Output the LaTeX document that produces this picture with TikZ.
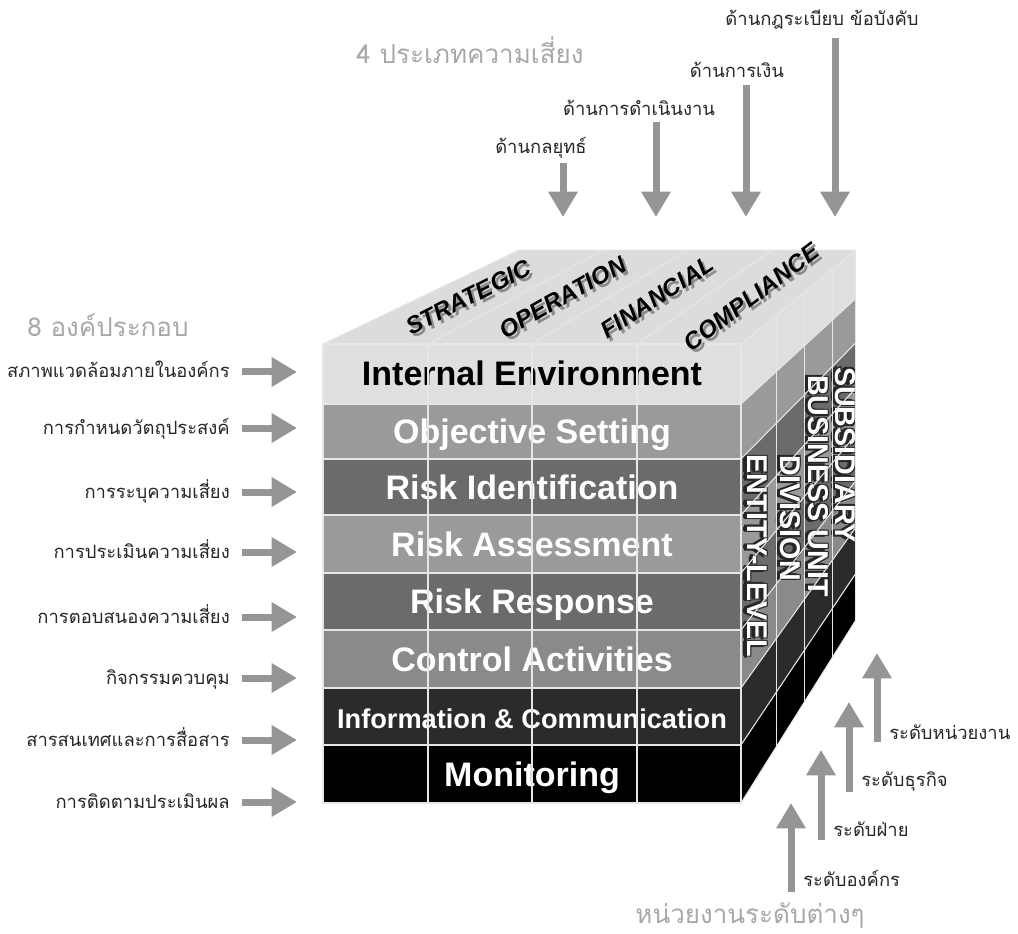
\documentclass[tikz,border=0pt]{standalone}
\usepackage{fontspec}
\setmainfont{Liberation Sans}
\newfontfamily\thaifont[Script=Thai]{Loma}
\usetikzlibrary{arrows.meta, calc, positioning}
\definecolor{arrowgray}{HTML}{959595}
\definecolor{titlegray}{HTML}{A8A8A8}
\definecolor{topgray}{HTML}{DCDCDC}
\definecolor{lightrow}{HTML}{DFDFDF}
\definecolor{midrow}{HTML}{9A9A9A}
\definecolor{darkrow}{HTML}{6B6B6B}
\definecolor{ctrlrow}{HTML}{8A8A8A}
\definecolor{inforow}{HTML}{2B2B2B}
\definecolor{monrow}{HTML}{000000}
\definecolor{cubeline}{HTML}{E6E6E6}
\tikzset{
  >=latex,
  % cube faces
  cube line/.style={draw=cubeline, line width=0.8pt},
  row text/.style={font=\bfseries, inner sep=0},
  top text/.style={font=\fontsize{18pt}{19pt}\selectfont\bfseries\itshape, inner sep=0},
  side text/.style={font=\fontsize{21.5pt}{22pt}\selectfont\bfseries, rotate=-90, inner sep=0},
  % labels and arrows
  th label/.style={font=\thaifont\fontsize{13.8pt}{16pt}\selectfont, text=black!85, inner sep=0},
  th title/.style={font=\thaifont\fontsize{19.5pt}{22pt}\selectfont, text=titlegray, inner sep=0},
  risk arrow/.style={-{Triangle[length=19pt,width=21pt]}, line width=5.25pt, draw=arrowgray}
}
\begin{document}
\begin{tikzpicture}[x=0.75pt, y=-0.75pt]
  \useasboundingbox (0,0) rectangle (1018,934);
  \coordinate (vp) at (1333,-140);

  % top face
  \fill[topgray] (323,344) -- (741,344) -- ($(vp)!0.806!(741,344)$)
    -- ($(vp)!0.806!(323,344)$) -- cycle;

  % rows, front and side
  \foreach \ya/\yb/\col/\tc/\fs/\txt [count=\i] in {
      344/404/lightrow/black/25.5pt/Internal Environment,
      404/459/midrow/white/25.5pt/Objective Setting,
      459/515/darkrow/white/25.5pt/Risk Identification,
      515/573/midrow/white/25.5pt/Risk Assessment,
      573/630/darkrow/white/25.5pt/Risk Response,
      630/688/ctrlrow/white/25.5pt/Control Activities,
      688/745/inforow/white/20.4pt/Information \& Communication,
      745/803/monrow/white/25.5pt/Monitoring}{
    \fill[\col] (323,\ya) rectangle (741,\yb);
    \fill[\col] (741,\ya) -- ($(vp)!0.806!(741,\ya)$) -- ($(vp)!0.806!(741,\yb)$)
      -- (741,\yb) -- cycle;
    \node[row text, anchor=base, text=\tc, font=\fontsize{\fs}{\fs}\selectfont\bfseries]
      (row\i) at (532,{(\ya+\yb)/2+12}) {\txt};
  }

  % side labels with dark outline
  \foreach \nm/\cx/\cy/\txt in {ent/757/556/ENTITY-LEVEL, div/790/518/DIVISION,
      bu/818/486/BUSINESS UNIT, sub/845/455/SUBSIDIARY}{
    \foreach \dx/\dy [count=\k] in {-3.5/0, -2.5/1.5, -2.5/-1.5, 1.2/1.2, 1.2/-1.2}
      \node[side text, text=black!85] (\nm sh\k) at (\cx+\dx,\cy+\dy) {\txt};
    \node[side text, text=white] (\nm) at (\cx,\cy) {\txt};
  }

  % grid lines
  \foreach \x in {428,532,637}
    \draw[cube line] (\x,344) -- (\x,803);
  \foreach \y in {404,459,515,573,630,688,745}
    \draw[cube line] (323,\y) -- (741,\y);
  \foreach \y in {344,404,459,515,573,630,688,745,803}
    \draw[cube line] (741,\y) -- ($(vp)!0.806!(741,\y)$);
  \foreach \s in {0.94,0.892,0.846,0.806}
    \draw[cube line] ($(vp)!\s!(741,344)$) -- ($(vp)!\s!(741,803)$);
  \foreach \x in {428,532,637}
    \draw[cube line] (\x,344) -- ($(vp)!0.806!(\x,344)$);
  \draw[cube line] (323,344) rectangle (741,803);
  \draw[cube line] (323,344) -- ($(vp)!0.806!(323,344)$) -- ($(vp)!0.806!(741,344)$);

  % risk types on top face
  \foreach \xm/\txt [count=\i] in {375.5/STRATEGIC, 480/OPERATION, 584.5/FINANCIAL, 689/COMPLIANCE}{
    \path ([shift={(3,3)}]\xm,344) -- ([shift={(3,3)}]$(vp)!0.806!(\xm,344)$)
      node[midway, sloped, top text, text=black!45] (top\i sh) {\txt};
    \path (\xm,344) -- ($(vp)!0.806!(\xm,344)$)
      node[midway, sloped, top text, text=black] (top\i) {\txt};
  }

  % titles
  \node[th title] (ttl8) at (108,325) {8 องค์ประกอบ};
  \node[th title] (ttl4) at (470,50) {4 ประเภทความเสี่ยง};
  \node[th title] (ttlu) at (750,915) {หน่วยงานระดับต่างๆ};

  % 8 components
  \foreach \y/\txt [count=\i] in {372/สภาพแวดล้อมภายในองค์กร, 428/การกำหนดวัตถุประสงค์,
      492/การระบุความเสี่ยง, 552/การประเมินความเสี่ยง, 617/การตอบสนองความเสี่ยง,
      678/กิจกรรมควบคุม, 740/สารสนเทศและการสื่อสาร, 802/การติดตามประเมินผล}{
    \node[th label, anchor=base east] (el\i) at (230,\y+6) {\txt};
    \coordinate (et\i) at (297,\y);
    \draw[risk arrow, shorten <=9pt] (el\i.east |- et\i) -- (et\i);
  }

  % 4 risk types
  \foreach \lx/\ly/\ax/\ay/\txt [count=\i] in {541/148/563/163/ด้านกลยุทธ์,
      639/110/656/122/ด้านการดำเนินงาน, 737/72/746/85/ด้านการเงิน,
      822/20/835/38/ด้านกฎระเบียบ ข้อบังคับ}{
    \node[th label, anchor=base] (tl\i) at (\lx,\ly+6) {\txt};
    \coordinate (ts\i) at (\ax,\ay);
    \coordinate (te\i) at (\ax,217);
    \draw[risk arrow] (ts\i) -- (te\i);
  }

  % unit levels
  \foreach \ax/\ab/\at/\ly/\txt [count=\i] in {791/892/803/880/ระดับองค์กร,
      821/840/750/830/ระดับฝ่าย, 849/792/702/780/ระดับธุรกิจ,
      877/742/653/733/ระดับหน่วยงาน}{
    \coordinate (ub\i) at (\ax,\ab);
    \coordinate (ut\i) at (\ax,\at);
    \draw[risk arrow] (ub\i) -- (ut\i);
    \node[th label, anchor=base west] (ul\i) at (\ax+12,\ly+6) {\txt};
  }
\end{tikzpicture}
\end{document}
